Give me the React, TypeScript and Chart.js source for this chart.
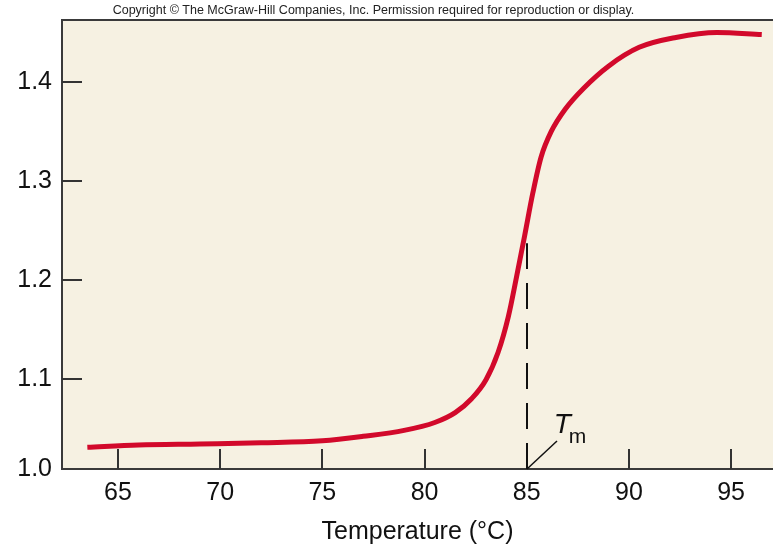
import React, { useEffect, useRef } from "react";
import { Chart, registerables } from "chart.js";

Chart.register(...registerables);

// ---- data ----
const temperatures = [63.5, 66.0, 69.0, 72.0, 75.0, 77.0, 79.0, 80.5, 81.5, 82.3, 83.0, 83.6, 84.1, 84.5, 84.9, 85.3, 85.7, 86.2, 86.9, 87.8, 89.0, 90.5, 92.3, 94.3, 96.5];
const absorbance = [1.031, 1.0332, 1.0343, 1.0355, 1.0375, 1.042, 1.048, 1.056, 1.066, 1.080, 1.099, 1.127, 1.163, 1.203, 1.245, 1.288, 1.324, 1.350, 1.373, 1.394, 1.416, 1.435, 1.445, 1.450, 1.448];
const xTickValues = [65, 70, 75, 80, 85, 90, 95];
const yTickValues = [1.1, 1.2, 1.3, 1.4];
const yBaseLabel = "1.0";
const xTitle = "Temperature (°C)";
const copyrightText = "Copyright © The McGraw-Hill Companies, Inc. Permission required for reproduction or display.";
const tmTemperature = 85;
const tmCurveValue = 1.237;

const FONT = "'Liberation Sans', Arial, Helvetica, sans-serif";
const BG = "#F6F1E2";
const AXIS = "#3a3a3a";
const RED = "#D2092B";

const decorPlugin = {
  id: "decor",
  beforeDraw(chart: any) {
    const { ctx, chartArea: a, width } = chart;
    ctx.save();
    ctx.fillStyle = BG;
    ctx.fillRect(a.left, a.top, a.right - a.left, a.bottom - a.top);
    ctx.fillStyle = "#222";
    ctx.font = `12.5px ${FONT}`;
    ctx.textAlign = "center";
    ctx.textBaseline = "middle";
    ctx.fillText(copyrightText, width / 2 - 13, 11);
    ctx.restore();
  },
  beforeDatasetsDraw(chart: any) {
    const { ctx, chartArea: a, scales } = chart;
    const xs = scales.x;
    const ys = scales.y;
    ctx.save();
    // inward ticks
    ctx.strokeStyle = "#333";
    ctx.lineWidth = 2;
    ctx.beginPath();
    xTickValues.forEach((v) => {
      const px = Math.round(xs.getPixelForValue(v));
      ctx.moveTo(px, a.bottom);
      ctx.lineTo(px, a.bottom - 20);
    });
    yTickValues.forEach((v) => {
      const py = Math.round(ys.getPixelForValue(v));
      ctx.moveTo(a.left, py);
      ctx.lineTo(a.left + 20, py);
    });
    ctx.stroke();
    // Tm dashed line
    const tx = Math.round(xs.getPixelForValue(tmTemperature));
    ctx.strokeStyle = "#111";
    ctx.lineWidth = 2;
    ctx.setLineDash([26, 14]);
    ctx.beginPath();
    ctx.moveTo(tx, a.bottom);
    ctx.lineTo(tx, ys.getPixelForValue(tmCurveValue));
    ctx.stroke();
    ctx.setLineDash([]);
    // diagonal pointer
    ctx.lineWidth = 1.5;
    ctx.beginPath();
    ctx.moveTo(tx, a.bottom);
    ctx.lineTo(tx + 30, a.bottom - 28);
    ctx.stroke();
    ctx.restore();
  },
  afterDraw(chart: any) {
    const { ctx, chartArea: a, scales } = chart;
    const tx = scales.x.getPixelForValue(tmTemperature);
    ctx.save();
    ctx.strokeStyle = AXIS;
    ctx.lineWidth = 2;
    ctx.beginPath();
    ctx.moveTo(a.left - 1, a.top);
    ctx.lineTo(a.right, a.top);
    ctx.stroke();
    ctx.fillStyle = "#111";
    ctx.textAlign = "left";
    ctx.textBaseline = "alphabetic";
    ctx.font = `italic 28px ${FONT}`;
    ctx.fillText("T", tx + 27, a.bottom - 36);
    ctx.font = `21px ${FONT}`;
    ctx.fillText("m", tx + 42, a.bottom - 26);
    ctx.restore();
  },
};

export default function App() {
  const canvasRef = useRef<HTMLCanvasElement | null>(null);

  useEffect(() => {
    if (!canvasRef.current) return;
    const chart = new Chart(canvasRef.current, {
      type: "line",
      data: {
        datasets: [
          {
            data: temperatures.map((t, i) => ({ x: t, y: absorbance[i] })),
            borderColor: RED,
            borderWidth: 5,
            pointRadius: 0,
            fill: false,
            cubicInterpolationMode: "monotone",
            borderCapStyle: "butt",
          },
        ],
      },
      options: {
        animation: false,
        responsive: true,
        maintainAspectRatio: false,
        layout: { padding: { top: 20, left: 0, right: 0, bottom: 0 } },
        plugins: {
          legend: { display: false },
          tooltip: { enabled: false },
          title: { display: false },
        },
        scales: {
          x: {
            type: "linear",
            min: 62.26,
            max: 97.05,
            grid: { display: false, drawTicks: false },
            border: { display: true, color: AXIS, width: 2 },
            afterBuildTicks: (s: any) => {
              s.ticks = xTickValues.map((v) => ({ value: v }));
            },
            afterFit: (s: any) => {
              s.height = 77;
              s.paddingLeft = 0;
              s.paddingRight = 0;
            },
            ticks: {
              color: "#111",
              font: { family: FONT, size: 25 },
              padding: 9,
              maxRotation: 0,
              autoSkip: false,
              callback: (v: any) => String(v),
            },
            title: {
              display: true,
              text: xTitle,
              color: "#111",
              font: { family: FONT, size: 25, lineHeight: 1.0 },
              padding: { top: 0, bottom: 1 },
            },
          },
          y: {
            type: "linear",
            min: 1.009,
            max: 1.4626,
            grid: { display: false, drawTicks: false },
            border: { display: true, color: AXIS, width: 2 },
            afterBuildTicks: (s: any) => {
              s.ticks = [{ value: s.min }, ...yTickValues.map((v) => ({ value: v }))];
            },
            afterFit: (s: any) => {
              s.width = 62;
              s.paddingTop = 0;
              s.paddingBottom = 0;
            },
            ticks: {
              color: "#111",
              font: { family: FONT, size: 25 },
              padding: 10,
              autoSkip: false,
              callback: (v: any, i: number) => (i === 0 ? yBaseLabel : Number(v).toFixed(1)),
            },
          },
        },
      },
      plugins: [decorPlugin],
    } as any);
    return () => chart.destroy();
  }, []);

  return (
    <div style={{ position: "absolute", left: 0, top: 0, width: 773, height: 546, background: "#fff" }}>
      <canvas ref={canvasRef} />
    </div>
  );
}
